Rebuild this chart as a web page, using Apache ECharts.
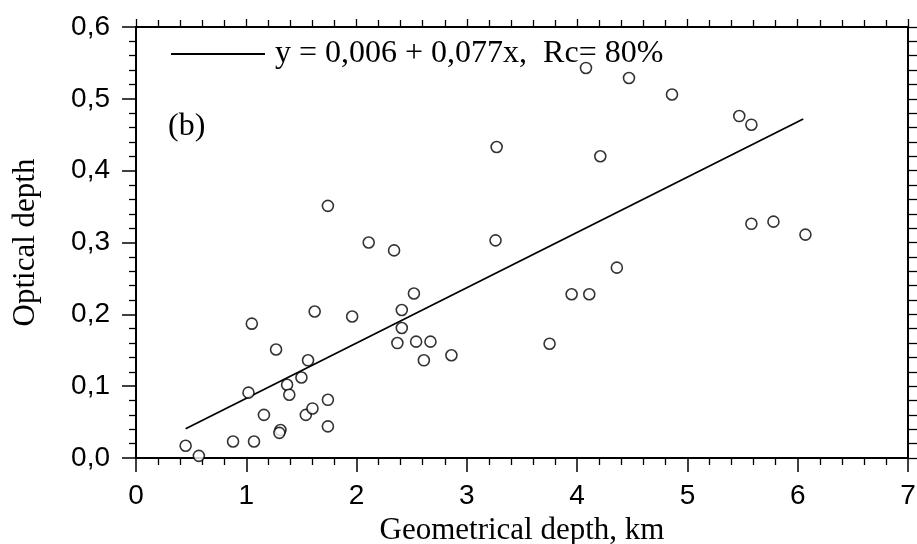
<!DOCTYPE html>
<html>
<head>
<meta charset="utf-8">
<script src="https://cdn.jsdelivr.net/npm/echarts@6/dist/echarts.min.js"></script>
<style>
  html, body { margin: 0; padding: 0; background: #fff; }
  #main { width: 917px; height: 544px; }
</style>
</head>
<body>
<div id="main"></div>
<script>
// geometrical depth (km) / optical depth
var geoDepth = [
  0.45, 0.57, 0.88, 1.07, 1.05, 1.02, 1.16, 1.27, 1.31, 1.30,
  1.37, 1.39, 1.50, 1.56, 1.54, 1.60, 1.74, 1.74, 1.62, 2.11,
  1.96, 2.34, 3.26, 2.52, 2.41, 2.41, 2.37, 2.54, 2.67, 2.61,
  2.86, 1.74, 3.27, 4.08, 4.47, 4.86, 5.47, 5.58, 4.21, 5.58,
  5.78, 6.07, 4.36, 3.95, 4.11, 3.75
];
var optDepth = [
  0.017, 0.003, 0.023, 0.023, 0.187, 0.091, 0.060, 0.151, 0.039, 0.035,
  0.102, 0.088, 0.112, 0.136, 0.060, 0.069, 0.081, 0.044, 0.204, 0.300,
  0.197, 0.289, 0.303, 0.229, 0.206, 0.181, 0.160, 0.162, 0.162, 0.136,
  0.143, 0.351, 0.433, 0.543, 0.529, 0.506, 0.476, 0.464, 0.420, 0.326,
  0.329, 0.311, 0.265, 0.228, 0.228, 0.159
];

// fit y = a + b x, drawn over the data range
var fitA = 0.006;
var fitB = 0.077;
var fitX = [0.45, 6.05];
var fitName = 'y = 0,006 + 0,077x,  Rc= 80%';

var xTicks = [0, 1, 2, 3, 4, 5, 6, 7];
var yTicks = [0, 0.1, 0.2, 0.3, 0.4, 0.5, 0.6];

var points = geoDepth.map(function (x, i) { return [x, optDepth[i]]; });
var fitLine = fitX.map(function (x) { return [x, fitA + fitB * x]; });

var myChart = echarts.init(document.getElementById('main'));

var tickStyle = { show: true, inside: false, length: 14, lineStyle: { color: '#000', width: 1.5 } };
var minorStyle = { show: true, splitNumber: 5, length: 7, lineStyle: { color: '#000', width: 1.3 } };
var lineStyle = { show: true, onZero: false, lineStyle: { color: '#000', width: 2 } };

var option = {
  backgroundColor: '#fff',
  animation: false,
  grid: { left: 136, right: 9, top: 27, bottom: 86, outerBoundsMode: 'none', containLabel: false },
  title: {
    text: '(b)',
    left: 163,
    top: 106,
    textStyle: { fontFamily: 'Liberation Serif', fontWeight: 'normal', fontSize: 32, color: '#000' }
  },
  legend: {
    left: 166,
    top: 33,
    icon: 'rect',
    itemWidth: 94,
    itemHeight: 2,
    data: [fitName],
    textStyle: { fontFamily: 'Liberation Serif', fontSize: 32, color: '#000', padding: [0, 0, 0, 5] }
  },
  xAxis: [{
    type: 'value',
    min: xTicks[0],
    max: xTicks[xTicks.length - 1],
    interval: 1,
    name: 'Geometrical depth, km',
    nameLocation: 'middle',
    nameGap: 52,
    nameTextStyle: { fontFamily: 'Liberation Serif', fontSize: 31, color: '#000' },
    axisLine: lineStyle,
    axisTick: tickStyle,
    minorTick: minorStyle,
    splitLine: { show: false },
    axisLabel: { margin: 24, fontFamily: 'Liberation Sans', fontSize: 28, color: '#000' }
  }, {
    type: 'value',
    position: 'top',
    min: xTicks[0],
    max: xTicks[xTicks.length - 1],
    interval: 1,
    axisLine: lineStyle,
    axisTick: { show: true, inside: false, length: 8, lineStyle: { color: '#000', width: 1.3 } },
    minorTick: minorStyle,
    splitLine: { show: false },
    axisLabel: { show: false }
  }],
  yAxis: [{
    type: 'value',
    min: yTicks[0],
    max: yTicks[yTicks.length - 1],
    interval: 0.1,
    name: 'Optical depth',
    nameLocation: 'middle',
    nameGap: 95,
    nameTextStyle: { fontFamily: 'Liberation Serif', fontSize: 31, color: '#000' },
    axisLine: lineStyle,
    axisTick: tickStyle,
    minorTick: minorStyle,
    splitLine: { show: false },
    axisLabel: {
      margin: 26,
      fontFamily: 'Liberation Sans',
      fontSize: 28,
      color: '#000',
      formatter: function (v) { return v.toFixed(1).replace('.', ','); }
    }
  }, {
    type: 'value',
    position: 'right',
    min: yTicks[0],
    max: yTicks[yTicks.length - 1],
    interval: 0.1,
    axisLine: lineStyle,
    axisTick: { show: true, inside: false, length: 9, lineStyle: { color: '#000', width: 1.3 } },
    minorTick: { show: true, splitNumber: 5, length: 9, lineStyle: { color: '#000', width: 1.3 } },
    splitLine: { show: false },
    axisLabel: { show: false }
  }],
  series: [{
    name: fitName,
    type: 'line',
    data: fitLine,
    symbol: 'none',
    color: '#000',
    lineStyle: { color: '#000', width: 1.8 },
    z: 3
  }, {
    name: 'points',
    type: 'scatter',
    data: points,
    symbol: 'circle',
    symbolSize: 11,
    itemStyle: { color: '#fff', borderColor: '#000', borderWidth: 1.6 },
    z: 4
  }]
};

myChart.setOption(option);
</script>
</body>
</html>
